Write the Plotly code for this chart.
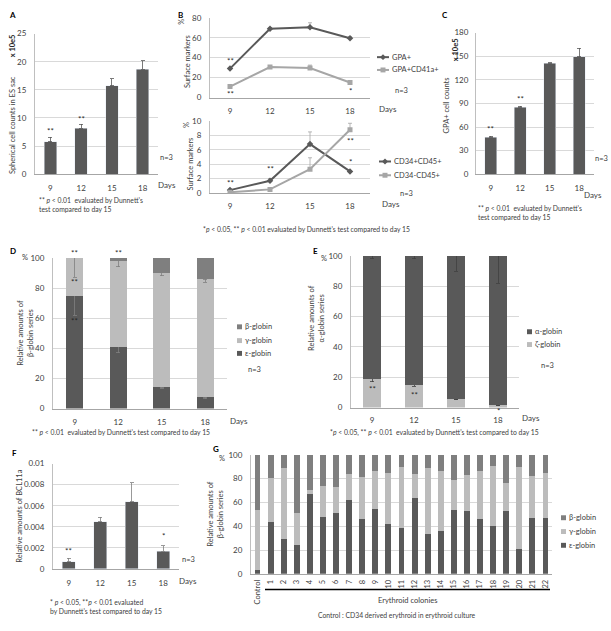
import plotly.graph_objects as go

W, H = 611, 631
FONT = "Lato"
DARK = "#595959"
MID = "#7f7f7f"
LIGHT = "#bcbcbc"
LINE_LIGHT = "#a6a6a6"
GRID = "#d9d9d9"
TXT = "#404040"

# ---------------- data ----------------
days = ["9", "12", "15", "18"]

# A: spherical cell counts (x 10e5)
a_counts = [5.8, 8.2, 15.7, 18.7]
a_err = [0.8, 0.7, 1.3, 1.5]

# B: surface markers (%)
b_gpa = [29, 69, 70.5, 59.5]
b_gpa_err = [1, 1, 4.5, 1.5]
b_gpa41 = [11, 30.5, 29.5, 15]
b_gpa41_err = [1, 1, 3, 1]
b_cd34p = [0.4, 1.7, 6.8, 3.0]
b_cd34p_err = [0.15, 0.3, 1.7, 0.1]
b_cd34n = [0.1, 0.5, 3.3, 8.8]
b_cd34n_err = [0.1, 0.1, 1.6, 0.9]

# C: GPA+ cell counts (x 10e5)
c_counts = [47, 85, 141, 149]
c_err = [1.5, 1.5, 0.8, 11]

# D: beta-globin series (%)
d_eps = [75, 41, 14, 7.5]
d_gam = [25, 57, 76, 78.5]
d_beta = [0, 2, 10, 14]
d_eps_err = [13, 4, 0.5, 1]
d_gam_err = [13, 4, 2, 2]
d_beta_err = [0, 1, 1, 1]

# E: alpha-globin series (%)
e_zeta = [19, 15, 5.5, 1.5]
e_alpha = [81, 85, 94.5, 98.5]
e_zeta_err = [2, 1, 0.5, 0.5]
e_alpha_err = [2, 2, 10, 18]

# F: BCL11a
f_bcl = [0.0007, 0.0045, 0.0064, 0.0017]
f_err = [0.0003, 0.0004, 0.0018, 0.0005]

# G: colonies
g_cats = ["Control"] + [str(i) for i in range(1, 23)]
g_eps = [3.5, 43.8, 29.3, 23.8, 67.0, 47.4, 50.7, 62.2, 46.0, 54.2, 42.0, 38.4,
         63.8, 33.7, 35.6, 53.4, 52.9, 45.8, 40.5, 52.9, 20.5, 47.1, 47.1]
g_gam = [49.9, 37.0, 59.2, 26.9, 3.4, 26.6, 21.9, 21.4, 35.4, 32.1, 42.7, 51.5,
         20.3, 55.3, 50.7, 25.5, 29.8, 40.5, 49.9, 23.3, 69.4, 35.1, 37.6]
g_beta = [46.6, 19.2, 11.5, 49.3, 29.6, 26.0, 27.4, 16.4, 18.6, 13.7, 15.3, 10.1,
          15.9, 11.0, 13.7, 21.1, 17.3, 13.7, 9.6, 23.8, 10.1, 17.8, 15.3]

# significance marks: (category, y, text)
stars_a = [("9", 7.6, "**"), ("12", 9.8, "**")]
stars_b1 = [("9", 37, "**"), ("9", 4, "**"), ("18", 7, "*")]
stars_b2 = [("9", 1.4, "**"), ("12", 3.3, "**"), ("18", 4.3, "*"), ("18", 7.2, "**")]
stars_c = [("9", 58, "**"), ("12", 96, "**")]
stars_d = [("9", 103, "**"), ("9", 84, "**"), ("9", 58, "**"), ("12", 103, "**")]
stars_e = [("9", 12, "**"), ("12", 8, "**"), ("18", -2.5, "*")]
stars_f = [("9", 0.0017, "**"), ("18", 0.0031, "*")]

# ---------------- helpers ----------------
def fx(p):
    return p / W

def fy(p):
    return 1 - p / H

fig = go.Figure()

def err_up(vals, color=DARK):
    return dict(type="data", symmetric=False, array=vals, arrayminus=[0] * len(vals),
                color=color, thickness=0.8, width=2)

def err_down(vals, color=MID):
    return dict(type="data", symmetric=False, array=[0] * len(vals), arrayminus=vals,
                color=color, thickness=0.8, width=2)

# A
fig.add_trace(go.Bar(x=days, y=a_counts, marker_color=DARK, width=0.4,
                     error_y=err_up(a_err), xaxis="x", yaxis="y", showlegend=False))
# B top
fig.add_trace(go.Scatter(x=days, y=b_gpa, mode="lines+markers", line=dict(color=DARK, width=2),
                         marker=dict(symbol="diamond", size=5, color=DARK),
                         error_y=err_up(b_gpa_err, LINE_LIGHT), xaxis="x2", yaxis="y2", showlegend=False))
fig.add_trace(go.Scatter(x=days, y=b_gpa41, mode="lines+markers", line=dict(color=LINE_LIGHT, width=2),
                         marker=dict(symbol="square", size=5, color=LINE_LIGHT),
                         error_y=err_up(b_gpa41_err, LINE_LIGHT), xaxis="x2", yaxis="y2", showlegend=False))
# B bottom
fig.add_trace(go.Scatter(x=days, y=b_cd34p, mode="lines+markers", line=dict(color=DARK, width=2),
                         marker=dict(symbol="diamond", size=5, color=DARK),
                         error_y=err_up(b_cd34p_err, LINE_LIGHT), xaxis="x3", yaxis="y3", showlegend=False))
fig.add_trace(go.Scatter(x=days, y=b_cd34n, mode="lines+markers", line=dict(color=LINE_LIGHT, width=2),
                         marker=dict(symbol="square", size=5, color=LINE_LIGHT),
                         error_y=err_up(b_cd34n_err, LINE_LIGHT), xaxis="x3", yaxis="y3", showlegend=False))
# C
fig.add_trace(go.Bar(x=days, y=c_counts, marker_color=DARK, width=0.4,
                     error_y=err_up(c_err), xaxis="x4", yaxis="y4", showlegend=False))
# D
for vals, col, er in [(d_eps, DARK, d_eps_err), (d_gam, LIGHT, d_gam_err), (d_beta, MID, d_beta_err)]:
    fig.add_trace(go.Bar(x=days, y=vals, marker_color=col, width=0.4, marker_line_width=0,
                         error_y=err_down(er), xaxis="x5", yaxis="y5", showlegend=False))
# E
for vals, col, er in [(e_zeta, LIGHT, e_zeta_err), (e_alpha, DARK, e_alpha_err)]:
    fig.add_trace(go.Bar(x=days, y=vals, marker_color=col, width=0.42, marker_line_width=0,
                         error_y=err_down(er, "#404040"), xaxis="x6", yaxis="y6", showlegend=False))
# F
fig.add_trace(go.Bar(x=days, y=f_bcl, marker_color=DARK, width=0.4,
                     error_y=err_up(f_err, MID), xaxis="x7", yaxis="y7", showlegend=False))
# G
for vals, col in [(g_eps, DARK), (g_gam, LIGHT), (g_beta, MID)]:
    fig.add_trace(go.Bar(x=g_cats, y=vals, marker_color=col, width=0.45, marker_line_width=0,
                         xaxis="x8", yaxis="y8", showlegend=False))

TS = 8
TF = dict(family=FONT, size=TS, color=TXT)

def xax(l, r, n, anchor, angle=0, standoff=5, size=TS):
    return dict(domain=[fx(l), fx(r)], type="category", range=[-0.5, n - 0.5], anchor=anchor,
                showline=True, linecolor="#a6a6a6", linewidth=1, showgrid=False, zeroline=False,
                ticks="", tickfont=dict(family=FONT, size=size, color=TXT), tickangle=angle,
                ticklabelstandoff=standoff, fixedrange=True)

def yax(top, bot, rng, dtick, anchor, standoff=6):
    return dict(domain=[fy(bot), fy(top)], range=rng, dtick=dtick, anchor=anchor,
                showline=True, linecolor="#bfbfbf", linewidth=1, showgrid=True, gridcolor=GRID,
                gridwidth=1, zeroline=False, ticks="", tickfont=TF, ticklabelstandoff=standoff,
                fixedrange=True)

layout = dict(
    width=W, height=H, margin=dict(l=0, r=0, t=0, b=0), paper_bgcolor="white",
    plot_bgcolor="white", barmode="stack", font=dict(family=FONT, size=TS, color=TXT),
    xaxis=xax(35, 158, 4, "y", standoff=6), yaxis=yax(29, 172, [0, 25], 5, "x"),
    xaxis2=xax(210, 370, 4, "y2", standoff=6), yaxis2=yax(13, 94, [0, 80], 20, "x2"),
    xaxis3=xax(210, 370, 4, "y3", standoff=5), yaxis3=yax(118, 191, [0, 10], 2, "x3"),
    xaxis4=xax(476, 594, 4, "y4", standoff=6), yaxis4=yax(28, 172, [0, 180], 30, "x4", standoff=5),
    xaxis5=xax(53, 227, 4, "y5", standoff=6), yaxis5=yax(257, 410, [0, 100], 20, "x5"),
    xaxis6=xax(351, 519, 4, "y6", standoff=5), yaxis6=yax(255, 409, [0, 100], 20, "x6"),
    xaxis7=xax(53, 179, 4, "y7", standoff=6), yaxis7=yax(466, 573, [0, 0.01], 0.002, "x7"),
    xaxis8=xax(251, 552, 23, "y8", angle=-90, standoff=2, size=7.5), yaxis8=yax(457, 578, [0, 100], 20, "x8"),
)
fig.update_layout(**layout)

anns = []
shapes = []

def txt(s, x, y, size=8, xanchor="left", yanchor="middle", bold=False, angle=0, align="left", color=TXT):
    if bold:
        s = "<b>" + s + "</b>"
    anns.append(dict(text=s, x=fx(x), y=fy(y), xref="paper", yref="paper", showarrow=False,
                     xanchor=xanchor, yanchor=yanchor, textangle=angle, align=align,
                     font=dict(family=FONT, size=size, color=color)))

def stars(marks, axn, cats=days):
    xr = "x" if axn == 1 else "x%d" % axn
    yr = "y" if axn == 1 else "y%d" % axn
    r0, r1 = layout["yaxis" if axn == 1 else "yaxis%d" % axn]["range"]
    for cat, yv, s in marks:
        # y given relative to the axis domain so marks just outside the range stay visible
        anns.append(dict(text=s, x=cats.index(cat), y=(yv - r0) / (r1 - r0), xref=xr,
                         yref=yr + " domain", showarrow=False,
                         xanchor="center", yanchor="middle",
                         font=dict(family=FONT, size=8, color="#262626")))

stars(stars_a, 1)
stars(stars_b1, 2)
stars(stars_b2, 3)
stars(stars_c, 4)
stars(stars_d, 5)
stars(stars_e, 6)
stars(stars_f, 7)

# panel letters
for s, x, y in [("A", 7, 10), ("B", 176, 10), ("C", 440, 10), ("D", 8, 250),
                ("E", 311, 250), ("F", 10, 455), ("G", 211, 451)]:
    txt(s, x, y, size=8, bold=True, color="#000000")

# A texts
txt("x 10e5", 12, 42, size=7.5, xanchor="center", bold=True, angle=-90, color="#262626")
txt("Spherical cell counts in ES sac", 12, 122, size=7.5, xanchor="center", angle=-90)
txt("n=3", 158, 155, size=7.5)
txt("Days", 156, 183, size=8)
txt("** <i>p</i> < 0.01  evaluated by Dunnett's<br>test compared to day 15", 37, 203, size=6.8)

# B texts
txt("%", 182, 17, size=7.5, xanchor="center", angle=-90)
txt("Surface markers", 187, 58, size=7.5, xanchor="center", angle=-90)
txt("%", 186, 122, size=7.5, xanchor="center", angle=-90)
txt("Surface markers", 190, 162, size=7.5, xanchor="center", angle=-90)
txt("Days", 377, 106, size=8)
txt("Days", 380, 202, size=8)
txt("n=3", 393, 87, size=7.5)
txt("n=3", 398, 192, size=7.5)
txt("*<i>p</i> < 0.05, ** <i>p</i> < 0.01 evaluated by Dunnett's test compared to day 15", 306, 228,
    size=6.8, xanchor="center")

# B legends
def line_legend(y, label, color, symbol, x0=377, x1=389):
    shapes.append(dict(type="line", xref="paper", yref="paper", x0=fx(x0), x1=fx(x1),
                       y0=fy(y), y1=fy(y), line=dict(color=color, width=2)))
    cx = (x0 + x1) / 2
    if symbol == "square":
        shapes.append(dict(type="rect", xref="paper", yref="paper", x0=fx(cx - 2.5),
                           x1=fx(cx + 2.5), y0=fy(y + 2.5), y1=fy(y - 2.5),
                           fillcolor=color, line=dict(width=0)))
    else:
        path = "M {} {} L {} {} L {} {} L {} {} Z".format(
            fx(cx - 3), fy(y), fx(cx), fy(y - 3), fx(cx + 3), fy(y), fx(cx), fy(y + 3))
        shapes.append(dict(type="path", xref="paper", yref="paper", path=path,
                           fillcolor=color, line=dict(width=0)))
    txt(label, x1 + 1, y, size=7.5)

line_legend(53, "GPA+", DARK, "diamond")
line_legend(66, "GPA+CD41a+", LINE_LIGHT, "square")
line_legend(159, "CD34+CD45+", DARK, "diamond", 379, 391)
line_legend(173, "CD34-CD45+", LINE_LIGHT, "square", 379, 391)

# C texts
txt("x 10e5", 455, 46, size=7.5, xanchor="center", bold=True, angle=-90, color="#262626")
txt("GPA+ cell counts", 446, 102, size=7.5, xanchor="center", angle=-90)
txt("n=3", 593, 156, size=7.5)
txt("Days", 582, 193, size=8)
txt("** <i>p</i> < 0.01  evaluated by Dunnett's<br>test compared to day 15", 476, 211, size=6.8)

# square legends
def sq_legend(x, y, label, color, size=7.5):
    shapes.append(dict(type="rect", xref="paper", yref="paper", x0=fx(x), x1=fx(x + 5),
                       y0=fy(y + 2.5), y1=fy(y - 2.5), fillcolor=color, line=dict(width=0)))
    txt(label, x + 6, y, size=size)

# D texts
txt("%", 25, 257, size=7.5, xanchor="center")
txt("Relative amounts of<br>β-globin series", 26, 333, size=7.5, xanchor="center", angle=-90, align="center")
sq_legend(237, 327, "β-globin", MID)
sq_legend(237, 341, "γ-globin", LIGHT)
sq_legend(237, 354, "ε-globin", DARK)
txt("n=3", 246, 370, size=7.5)
txt("Days", 228, 423, size=8)
txt("** <i>p</i> < 0.01  evaluated by Dunnett's test compared to day 15", 30, 434, size=6.8)

# E texts
txt("%", 324, 258, size=7.5, xanchor="center")
txt("Relative amounts of<br>α-globin series", 317, 318, size=7.5, xanchor="center", angle=-90, align="center")
sq_legend(527, 332, "α-globin", DARK)
sq_legend(527, 345, "ζ-globin", LIGHT)
txt("n=3", 539, 366, size=7.5)
txt("Days", 520, 420, size=8)
txt("*<i>p</i> < 0.05, ** <i>p</i> < 0.01  evaluated by Dunnett's test compared to day 15", 328, 434, size=6.8)

# F texts
txt("Relative amounts of BCL11a", 20, 520, size=7.5, xanchor="center", angle=-90)
txt("n=3", 180, 563, size=7.5)
txt("Days", 177, 585, size=8)
txt("* <i>p</i> < 0.05, **<i>p</i> < 0.01 evaluated<br>by Dunnett's test compared to day 15", 48, 611, size=6.8)

# G texts
txt("%", 222, 461, size=7.5, xanchor="center")
txt("Relative amounts of<br>β-globin series", 216, 517, size=7.5, xanchor="center", angle=-90, align="center")
sq_legend(561, 521, "β-globin", MID)
sq_legend(561, 535, "γ-globin", LIGHT)
sq_legend(561, 549, "ε-globin", DARK)
shapes.append(dict(type="line", xref="paper", yref="paper", x0=fx(265), x1=fx(550), y0=fy(594),
                   y1=fy(594), line=dict(color="#000000", width=1.5)))
txt("Erythroid colonies", 407, 605, size=7.5, xanchor="center")
txt("Control : CD34 derived erythroid in erythroid culture", 397, 620, size=6.8, xanchor="center")

fig.update_layout(annotations=anns, shapes=shapes)
fig.write_html("out.html", config={"displayModeBar": False},
               post_script="document.body.style.margin='0';document.body.style.overflow='hidden';")
